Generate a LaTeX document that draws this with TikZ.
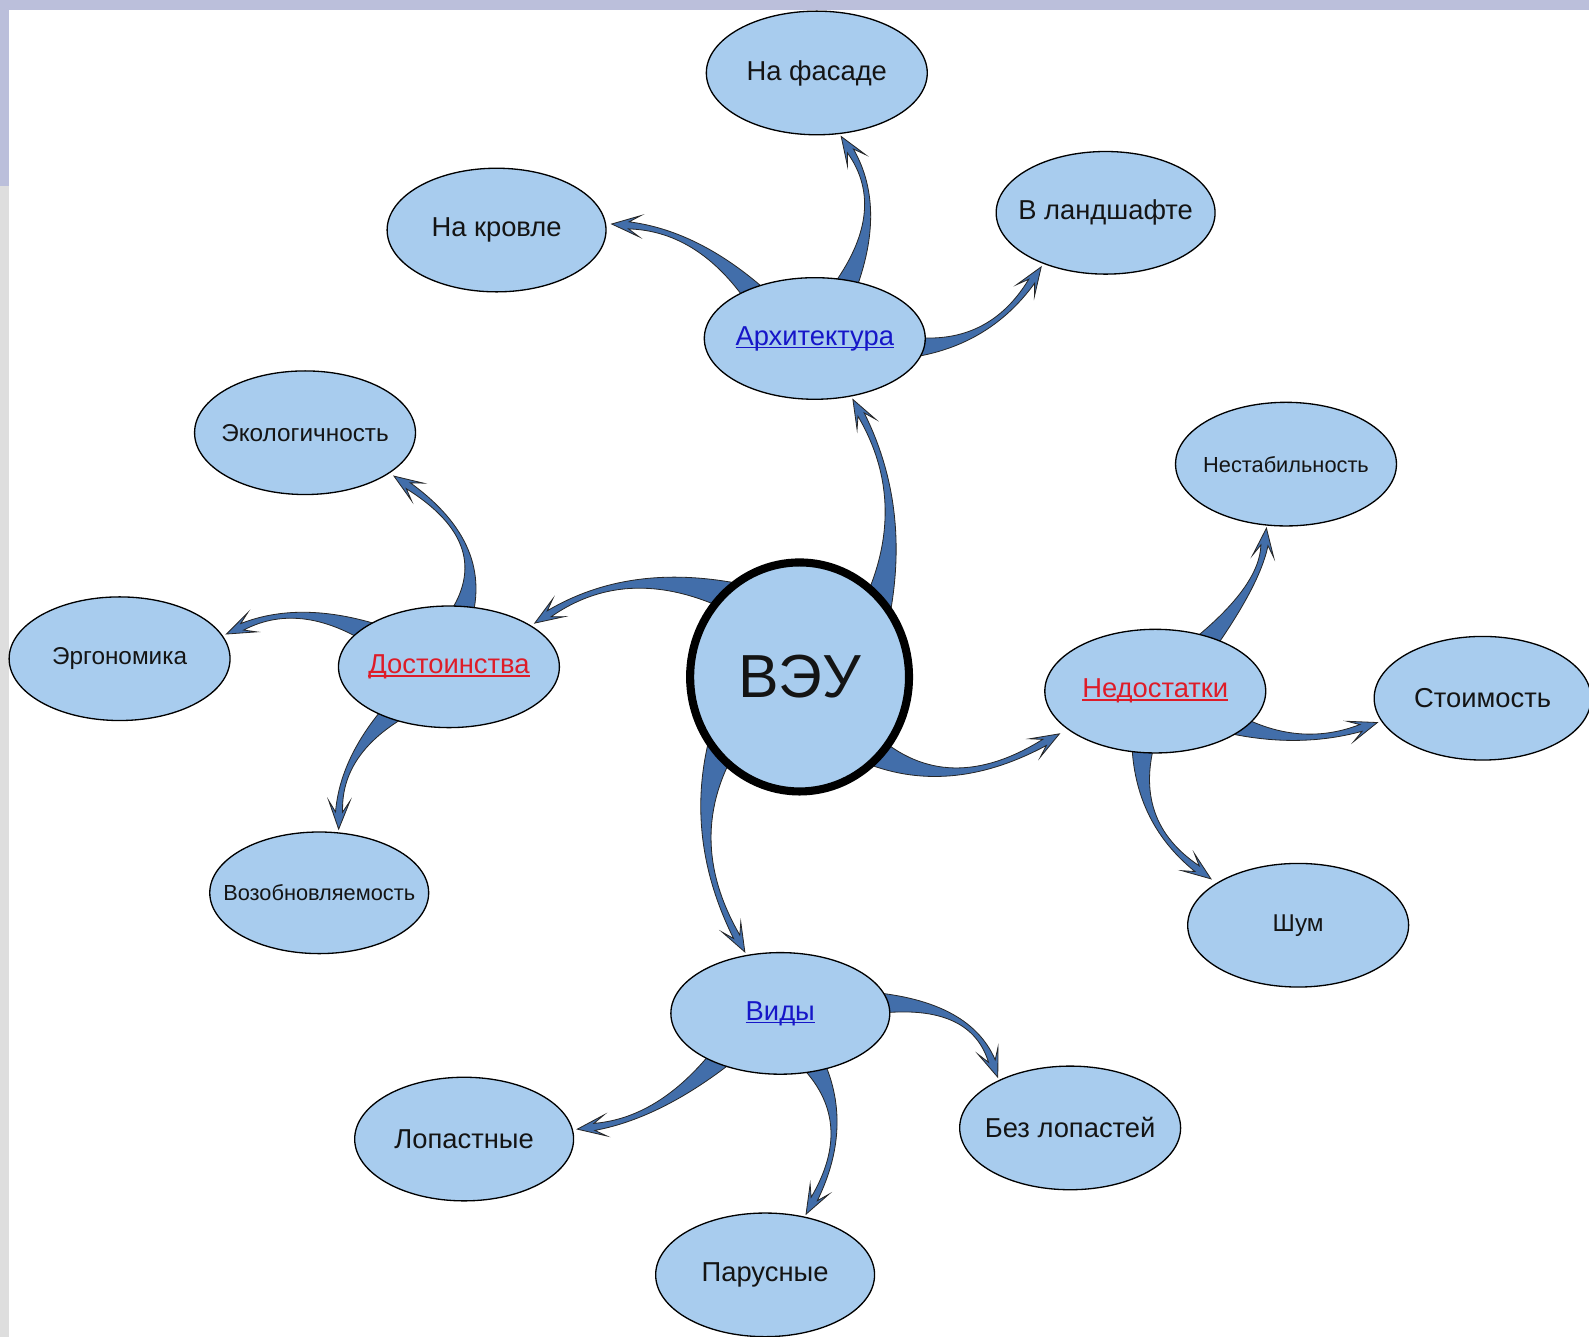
\documentclass[tikz,border=0pt]{standalone}
\usepackage{fontspec}
\setmainfont{Liberation Sans}
\usetikzlibrary{shapes.geometric,calc}
\pgfdeclarelayer{bg}
\pgfsetlayers{bg,main}
\definecolor{nodefill}{RGB}{168,204,238}
\definecolor{arrfill}{RGB}{66,110,170}
\definecolor{lav}{RGB}{187,191,219}
\definecolor{gry}{RGB}{222,222,222}
\definecolor{txt}{RGB}{20,20,20}
\definecolor{lnkblue}{RGB}{22,22,200}
\definecolor{lnkred}{RGB}{222,28,40}
\newcommand\lnk[1]{\setbox0=\hbox{#1}\rlap{\rule[-0.11em]{\wd0}{0.055em}}\box0}
% #1 start, #2 quadratic control, #3 tip, #4 base half-width
\newcommand\fatarrow[4]{%
 \coordinate (fa-s) at (#1);
 \coordinate (fa-q) at (#2);
 \coordinate (fa-t) at (#3);
 \coordinate (fa-s1) at ($(fa-s)!#4!90:(fa-q)$);
 \coordinate (fa-s2) at ($(fa-s)!#4!-90:(fa-q)$);
 \coordinate (fa-n) at ($(fa-t)!17pt!(fa-q)$);
 \coordinate (fa-b) at ($(fa-t)!28pt!(fa-q)$);
 \coordinate (fa-n1) at ($(fa-n)!3.5pt!90:(fa-t)$);
 \coordinate (fa-n2) at ($(fa-n)!3.5pt!-90:(fa-t)$);
 \coordinate (fa-b1) at ($(fa-b)!10.5pt!90:(fa-t)$);
 \coordinate (fa-b2) at ($(fa-b)!10.5pt!-90:(fa-t)$);
 \filldraw[fatarr] (fa-s1) .. controls ($(fa-s1)!0.667!(fa-q)$) and ($(fa-n1)!0.667!(fa-q)$) .. (fa-n1)
   -- (fa-b1) -- (fa-t) -- (fa-b2) -- (fa-n2)
   .. controls ($(fa-n2)!0.667!(fa-q)$) and ($(fa-s2)!0.667!(fa-q)$) .. (fa-s2) -- cycle;
}
\tikzset{
 fatarr/.style={fill=arrfill, draw=black!85, line width=0.8pt, line join=miter},
 bub/.style={ellipse, draw=black, line width=1.3pt, fill=nodefill, inner sep=0pt,
   minimum width=218pt, minimum height=122pt, text=txt, font=\fontsize{27}{32}\selectfont},
 smallA/.style={font=\fontsize{24}{28}\selectfont},
 smallB/.style={font=\fontsize{21.5}{26}\selectfont},
 hub/.style={ellipse, draw=black, line width=8pt, fill=nodefill, inner sep=0pt,
   minimum width=216pt, minimum height=226pt, text=txt, font=\fontsize{60}{70}\selectfont},
}
\begin{document}
\begin{tikzpicture}[x=1pt,y=-1pt]
\useasboundingbox (0,0) rectangle (1568,1319);
\begin{pgfonlayer}{bg}
\fill[white] (0,0) rectangle (1568,1319);
\fill[lav] (0,0) rectangle (1568,10);
\fill[lav] (0,0) rectangle (9,184);
\fill[gry] (0,184) rectangle (9,1319);
\end{pgfonlayer}

\node[hub] (veu) at (789,668) {\makebox[0pt]{ВЭУ}};

\node[bub] (fasad) at (806,72) {\makebox[0pt]{На фасаде}};
\node[bub, minimum width=216pt] (roof) at (490,227) {\makebox[0pt]{На кровле}};
\node[bub, minimum width=216pt, minimum height=121pt] (land) at (1091,210) {\makebox[0pt]{В ландшафте}};
\node[bub, minimum height=120pt, text=lnkblue] (arch) at (804,334) {\makebox[0pt]{\lnk{Архитектура}}};

\node[bub, smallA] (eco) at (301,427) {\makebox[0pt]{Экологичность}};
\node[bub, smallA] (ergo) at (118,650) {\makebox[0pt]{Эргономика}};
\node[bub, minimum height=120pt, text=lnkred] (dost) at (443,658) {\makebox[0pt]{\lnk{Достоинства}}};
\node[bub, smallB, minimum width=216pt, minimum height=120pt] (vozob) at (315,881) {\makebox[0pt]{Возобновляемость}};

\node[bub, smallB] (nestab) at (1269,458) {\makebox[0pt]{Нестабильность}};
\node[bub, text=lnkred] (ned) at (1140,682) {\makebox[0pt]{\lnk{Недостатки}}};
\node[bub, minimum width=214pt] (cost) at (1463,689) {\makebox[0pt]{Стоимость}};
\node[bub, smallA] (shum) at (1281,913) {\makebox[0pt]{Шум}};

\node[bub, minimum width=216pt, minimum height=120pt, text=lnkblue] (vidy) at (770,1000) {\makebox[0pt]{\lnk{Виды}}};
\node[bub, minimum width=216pt] (lopast) at (458,1124) {\makebox[0pt]{Лопастные}};
\node[bub] (bez) at (1056,1113) {\makebox[0pt]{Без лопастей}};
\node[bub, minimum width=216pt] (parus) at (755,1258) {\makebox[0pt]{Парусные}};

\begin{pgfonlayer}{bg}
\fatarrow{$(veu.center)!0.85!(veu.40)$}{899,500}{$(arch.center)!1.05!(arch.-58)$}{15pt}
\fatarrow{$(veu.center)!0.85!(veu.128)$}{622,554}{$(dost.center)!1.05!(dost.27)$}{15pt}
\fatarrow{$(veu.center)!0.85!(veu.-140)$}{674,826}{$(vidy.center)!1.05!(vidy.120)$}{15pt}
\fatarrow{$(veu.center)!0.85!(veu.-46)$}{935,788}{$(ned.center)!1.1!(ned.-156)$}{15pt}

\fatarrow{$(arch.center)!0.75!(arch.146)$}{692,228}{$(roof.center)!1.05!(roof.3)$}{12pt}
\fatarrow{$(arch.center)!0.75!(arch.59)$}{877,208}{$(fasad.center)!1.04!(fasad.-69)$}{12pt}
\fatarrow{$(arch.center)!0.75!(arch.-6)$}{972,347}{$(land.center)!1.05!(land.-140.5)$}{12pt}

\fatarrow{$(dost.center)!0.75!(dost.78)$}{490,538}{$(eco.center)!1.06!(eco.-26)$}{12pt}
\fatarrow{$(dost.center)!0.75!(dost.157)$}{299,591}{$(ergo.center)!1.04!(ergo.13)$}{12pt}
\fatarrow{$(dost.center)!0.75!(dost.-141)$}{336,743}{$(vozob.center)!1.05!(vozob.73)$}{12pt}

\fatarrow{$(ned.center)!0.75!(ned.43.5)$}{1243,579}{$(nestab.center)!1.04!(nestab.-107.6)$}{12pt}
\fatarrow{$(ned.center)!0.75!(ned.-23)$}{1277,740}{$(cost.center)!1.04!(cost.-167.5)$}{12pt}
\fatarrow{$(ned.center)!0.75!(ned.-104)$}{1117,810}{$(shum.center)!1.08!(shum.152)$}{12pt}

\fatarrow{$(vidy.center)!0.75!(vidy.7)$}{956,985}{$(bez.center)!1.04!(bez.145)$}{12pt}
\fatarrow{$(vidy.center)!0.75!(vidy.-145.8)$}{654,1103}{$(lopast.center)!1.04!(lopast.5.4)$}{12pt}
\fatarrow{$(vidy.center)!0.75!(vidy.-57)$}{845,1106}{$(parus.center)!1.04!(parus.56)$}{12pt}
\end{pgfonlayer}
\end{tikzpicture}
\end{document}
